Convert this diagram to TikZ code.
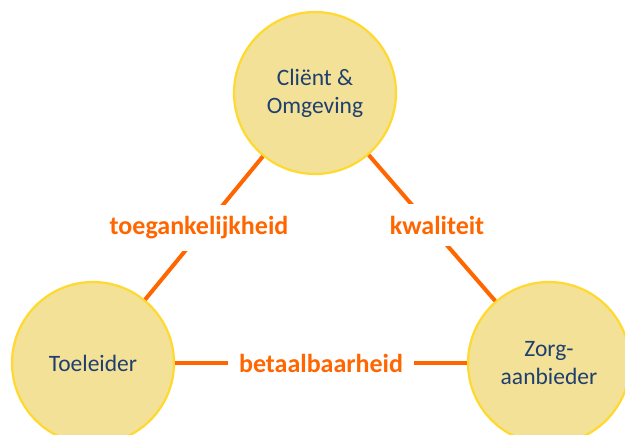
\documentclass[tikz,border=0pt]{standalone}
\usepackage{fontspec}
\setmainfont{Carlito}
\usepackage{xcolor}
\usepackage{tikz}
\definecolor{CircleFill}{HTML}{F2E196}
\definecolor{CircleRim}{HTML}{FFD92F}
\definecolor{PartyBlue}{HTML}{1F3F70}
\definecolor{LinkOrange}{HTML}{FF6600}

\begin{document}
\begin{tikzpicture}[x=1pt, y=-1pt,
    party/.style={circle, fill=CircleFill, draw=CircleRim, line width=2.2pt,
                  minimum size=162pt, inner sep=0pt, align=center,
                  text=PartyBlue, font=\fontsize{23.5}{28}\selectfont},
    link/.style={draw=LinkOrange, line width=4pt},
    aspect/.style={fill=white, inner xsep=11pt, inner ysep=12pt,
                   text=LinkOrange, font=\fontsize{26}{30}\selectfont\bfseries}]
        \clip (0,0) rectangle (625,435);
        % the three parties
        \node[party] (client)    at (315,93)  {Cliënt \&\\Omgeving};
        \node[party] (toeleider) at (93,363)  {Toeleider};
        \node[party] (aanbieder) at (549,363) {Zorg-\\aanbieder};
        % what ties each pair together
        \draw[link] (client) -- (toeleider)
              node[aspect, pos=0.5, xshift=-5pt] (toegang) {toegankelijkheid};
        \draw[link] (client) -- (aanbieder)
              node[aspect, pos=0.5, xshift=5pt, yshift=3pt] (kwaliteit) {kwaliteit};
        \draw[link] (toeleider) -- (aanbieder)
              node[aspect, pos=0.5] (betaal) {betaalbaarheid};
      \end{tikzpicture}
\end{document}
